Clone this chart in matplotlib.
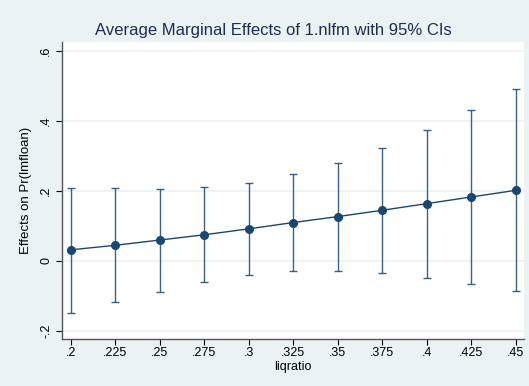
# Average marginal effects plot (Stata s2color look)
import numpy as np
import matplotlib.pyplot as plt

plt.rcParams['font.family'] = ['Liberation Sans', 'DejaVu Sans']

liqratio = [0.2, 0.225, 0.25, 0.275, 0.3, 0.325, 0.35, 0.375, 0.4, 0.425, 0.45]
margin = [0.031, 0.044, 0.059, 0.074, 0.091, 0.109, 0.126, 0.144, 0.163, 0.182, 0.201]
ci_low = [-0.149, -0.118, -0.089, -0.061, -0.041, -0.029, -0.029, -0.035, -0.049, -0.067, -0.086]
ci_high = [0.209, 0.207, 0.206, 0.211, 0.223, 0.247, 0.280, 0.323, 0.374, 0.431, 0.490]

xtick_labels = ['.2', '.225', '.25', '.275', '.3', '.325', '.35', '.375', '.4', '.425', '.45']
yticks = [-0.2, 0, 0.2, 0.4, 0.6]
ytick_labels = ['-.2', '0', '.2', '.4', '.6']

navy = '#1a476f'
bg = '#eaf2f3'

fig = plt.figure(figsize=(5.29, 3.86), dpi=100, facecolor=bg)
ax = fig.add_axes([0.1172, 0.1218, 0.8733, 0.7694])
ax.set_facecolor('white')

for y in yticks:
    ax.axhline(y, color=bg, lw=1.2, zorder=0)

yerr = [np.array(margin) - np.array(ci_low), np.array(ci_high) - np.array(margin)]
ax.errorbar(liqratio, margin, yerr=yerr, fmt='none', ecolor=navy, elinewidth=1.0,
            capsize=3, capthick=1.0, alpha=0.85)
ax.plot(liqratio, margin, color=navy, lw=1.0, marker='o', markersize=5.5)

ax.set_xlim(0.1951, 0.4547)
ax.set_ylim(-0.2237, 0.6249)
ax.set_xticks(liqratio)
ax.set_xticklabels(xtick_labels)
ax.set_yticks(yticks)
ax.set_yticklabels(ytick_labels, rotation=90, va='center')

for s in ['top', 'right']:
    ax.spines[s].set_visible(False)
for s in ['left', 'bottom']:
    ax.spines[s].set_color('#555555')
    ax.spines[s].set_linewidth(1.0)
ax.tick_params(colors='black', labelsize=9, length=4, width=0.8)
ax.tick_params(axis='x', pad=2)
ax.tick_params(axis='y', pad=3)

ax.set_xlabel('liqratio', fontsize=9, labelpad=1)
ax.set_ylabel('Effects on Pr(lmfloan)', fontsize=9.5, labelpad=6)
fig.text(0.517, 0.922, 'Average Marginal Effects of 1.nlfm with 95% CIs',
         ha='center', va='center', fontsize=12, color='#1e2d53')

fig.savefig('out.png', dpi=100, facecolor=bg)
